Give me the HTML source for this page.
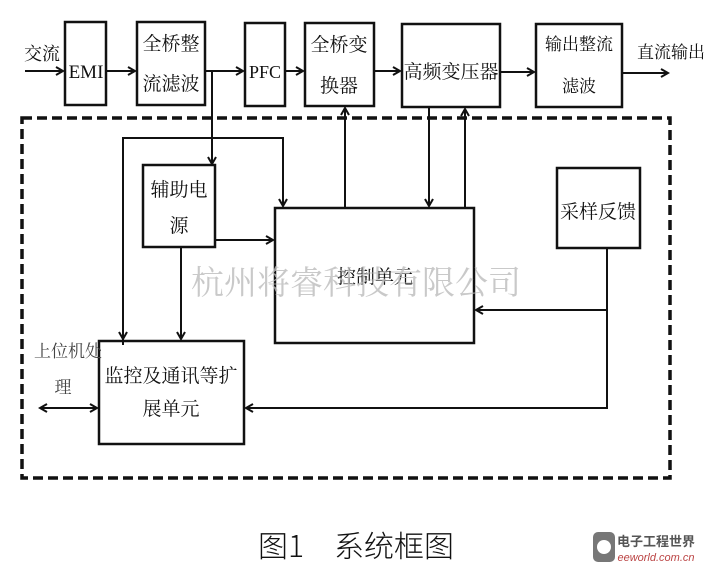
<!DOCTYPE html>
<html><head><meta charset="utf-8"><style>
html,body{margin:0;padding:0;background:#fff;}
</style></head><body>
<svg width="713" height="571" viewBox="0 0 713 571" xmlns="http://www.w3.org/2000/svg" font-family="'Liberation Serif','Noto Serif CJK SC',serif">
<defs>
<marker id="a" markerWidth="10" markerHeight="10" refX="8" refY="5" orient="auto" markerUnits="userSpaceOnUse"><path d="M1,1 L8,5 L1,9" fill="none" stroke="#111" stroke-width="2"/></marker>
<marker id="s" markerWidth="10" markerHeight="10" refX="2" refY="5" orient="auto" markerUnits="userSpaceOnUse"><path d="M9,1 L2,5 L9,9" fill="none" stroke="#111" stroke-width="2"/></marker>
</defs>
<g stroke="#111" stroke-width="2.5" fill="none">
<rect x="65" y="22" width="41" height="83"/>
<rect x="137" y="22" width="68" height="83"/>
<rect x="245" y="23" width="40" height="83"/>
<rect x="305" y="23" width="69" height="83"/>
<rect x="402" y="24" width="98" height="83"/>
<rect x="536" y="24" width="86" height="83"/>
<rect x="143" y="165" width="72" height="82"/>
<rect x="275" y="208" width="199" height="135"/>
<rect x="557" y="168" width="83" height="80"/>
<rect x="99" y="341" width="145" height="103"/>
<rect x="22" y="118" width="648" height="360" stroke-width="3.5" stroke-dasharray="10,5"/>
</g>
<g stroke="#111" stroke-width="2" fill="none" marker-end="url(#a)">
<path d="M25,71 H63"/>
<path d="M106,71 H135"/>
<path d="M205,71 H243"/>
<path d="M285,71 H303"/>
<path d="M374,71 H400"/>
<path d="M500,72 H534"/>
<path d="M622,73 H668"/>
<path d="M212,71 V164"/>
<path d="M123,345 V138 H283 V206"/>
<path d="M123,170 V339"/>
<path d="M215,240 H273"/>
<path d="M181,247 V339"/>
<path d="M345,208 V108"/>
<path d="M429,107 V206"/>
<path d="M465,208 V109"/>
<path d="M607,248 V408 H246"/>
<path d="M607,310 H476"/>
<path d="M40,408 H97" marker-start="url(#s)"/>
</g>
<g fill="#111" font-size="19" text-anchor="middle">
<text x="42" y="60" font-size="18">交流</text>
<text x="86" y="78" font-size="19">EMI</text>
<text x="171" y="50">全桥整</text>
<text x="171" y="90">流滤波</text>
<text x="265" y="78" font-size="18">PFC</text>
<text x="339" y="51">全桥变</text>
<text x="339" y="92">换器</text>
<text x="451" y="78">高频变压器</text>
<text x="579" y="50" font-size="17">输出整流</text>
<text x="579" y="92" font-size="17">滤波</text>
<text x="671" y="58" font-size="17">直流输出</text>
<text x="179" y="196">辅助电</text>
<text x="179" y="232">源</text>
<text x="375" y="283">控制单元</text>
<text x="598" y="218">采样反馈</text>
<text x="171" y="382">监控及通讯等扩</text>
<text x="171" y="415">展单元</text>
<text x="68" y="357" font-size="17" fill="#444">上位机处</text>
<text x="63" y="393" font-size="17" fill="#444">理</text>
</g>
<text x="356" y="294" font-size="33" fill="#bbb" fill-opacity="0.8" text-anchor="middle" font-family="'Liberation Serif','Noto Serif CJK SC',serif">杭州将睿科技有限公司</text>
<text x="356" y="557" font-size="30" fill="#111" text-anchor="middle" font-family="'Noto Sans CJK SC',sans-serif" font-weight="300">图1　系统框图</text>
<g>
<rect x="593" y="532" width="22" height="30" rx="5" fill="#777"/>
<circle cx="604" cy="547" r="7" fill="#fff"/>
<text x="656" y="546" font-size="13" fill="#555" text-anchor="middle" font-weight="bold" font-family="'Noto Sans CJK SC',sans-serif">电子工程世界</text>
<text x="656" y="561" font-size="11" fill="#b44" text-anchor="middle" font-style="italic" font-family="'Liberation Sans',sans-serif">eeworld.com.cn</text>
</g>
</svg>
</body></html>
